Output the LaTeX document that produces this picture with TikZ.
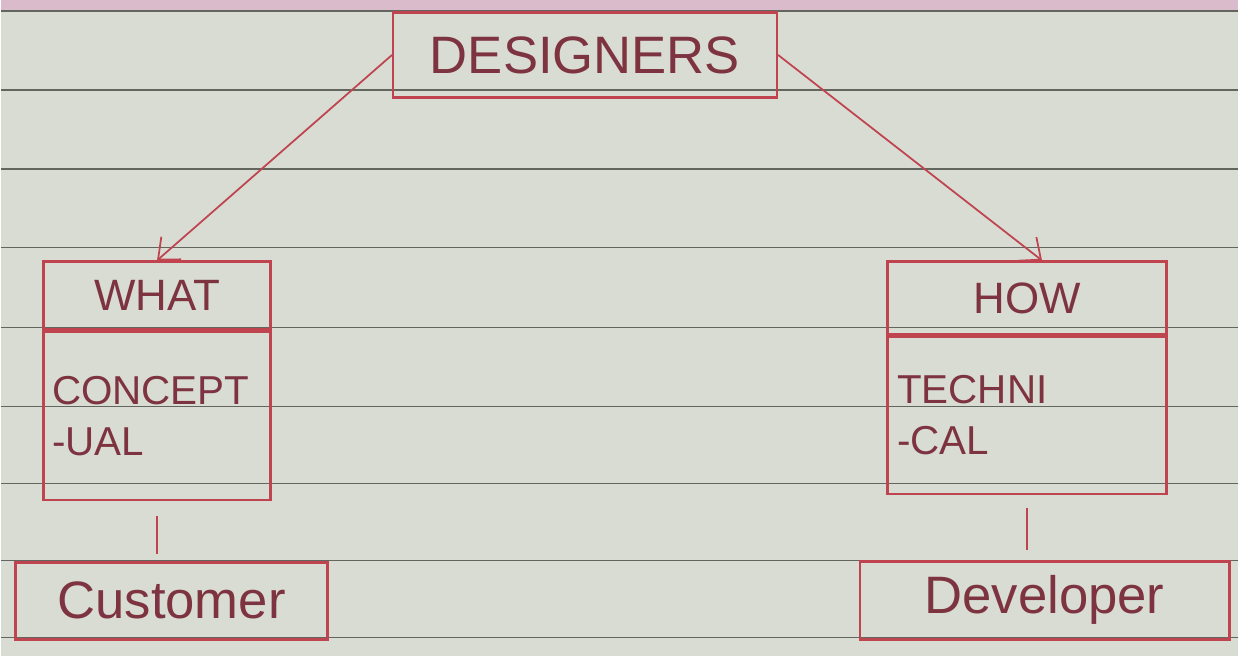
\documentclass[tikz,border=0pt]{standalone}
\usepackage{fontspec}
\setmainfont{Liberation Sans}
\usetikzlibrary{positioning, arrows.meta}
\definecolor{paper}{HTML}{D8DCD3}
\definecolor{rule}{HTML}{62665F}
\definecolor{pen}{HTML}{BF4450}
\definecolor{ink}{HTML}{7E3440}
\definecolor{pinkedge}{HTML}{D9BBCB}

\begin{document}
\begin{tikzpicture}[
    % Global spacing
    node distance=0pt,
    % Box styles
    box/.style={draw=pen, line width=1.4pt, inner sep=4pt, text=ink},
    head/.style={box, font=\fontsize{25}{27}\selectfont},
    body/.style={box, align=left, font=\fontsize{23}{29}\selectfont},
    role/.style={box, font=\fontsize{30}{32}\selectfont},
    % Arrow style
    >={Straight Barb[length=3.5mm, width=6mm]},
    link/.style={draw=pen, line width=1pt}
]

    % --- PAPER ---
    \fill[paper] (0,0) rectangle (24.78,-13.14);
    \fill[pinkedge] (0,0) rectangle (24.78,-0.22);
    \foreach \y in {0.22,1.8,3.38,4.96,6.56,8.14,9.68,11.22,12.76}
        \draw[rule, line width=0.8pt] (0,-\y) -- (24.78,-\y);

    % --- NODES ---
    \node[role, minimum width=7.68cm, minimum height=1.7cm] (designers) at (11.7,-1.1) {DESIGNERS};

    % Left column
    \node[head, minimum width=4.54cm, minimum height=1.36cm] (what) at (3.13,-5.92) {WHAT};
    \node[body, below=of what, minimum width=4.54cm, minimum height=3.36cm, text width=4.2cm] (concept) {CONCEPT\\-UAL};
    \node[role, minimum width=6.24cm, minimum height=1.54cm] (customer) at (3.42,-12.03) {Customer};

    % Right column
    \node[head, minimum width=5.58cm, minimum height=1.46cm] (how) at (20.55,-5.97) {HOW};
    \node[body, below=of how, minimum width=5.58cm, minimum height=3.14cm, text width=5.2cm] (technical) {TECHNI\\-CAL};
    \node[role, minimum width=7.4cm, minimum height=1.56cm] (developer) at (20.9,-12.02) {Developer};

    % --- EDGES ---
    \draw[link, ->] (designers.west) -- (what.north);
    \draw[link, ->] (designers.east) -- ([xshift=0.3cm]how.north);

    % Short ties to the roles
    \draw[link, shorten <=0.3cm, shorten >=0.15cm] (concept.south) -- (concept.south |- customer.north);
    \draw[link, shorten <=0.25cm, shorten >=0.2cm] (technical.south) -- (technical.south |- developer.north);

\end{tikzpicture}
\end{document}
